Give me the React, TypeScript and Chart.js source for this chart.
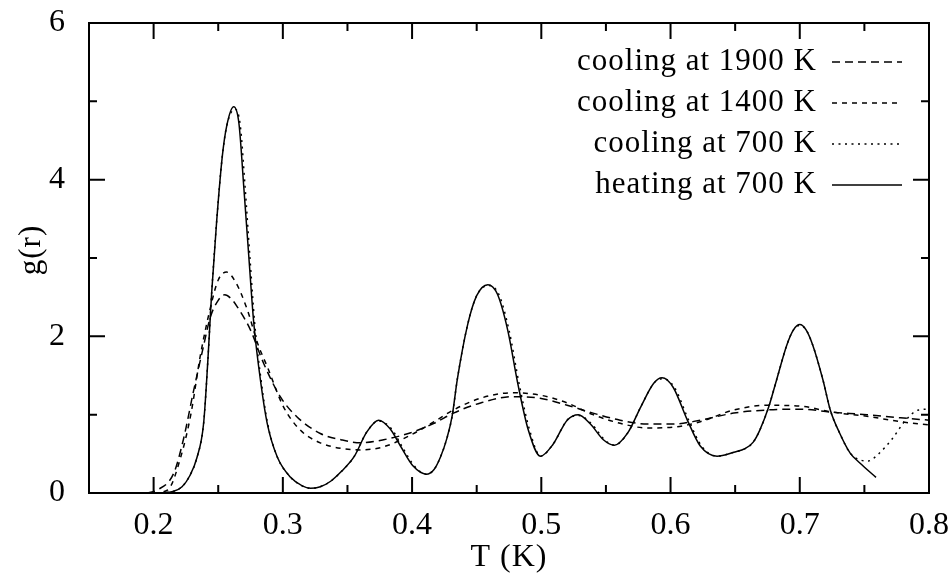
import React, { useEffect, useRef } from "react";
import { Chart, registerables } from "chart.js";

Chart.register(...registerables);

// ---------- data ----------
const cool1900X = [0.195, 0.203, 0.2155, 0.223, 0.231, 0.238, 0.244, 0.25, 0.255, 0.26, 0.265, 0.275, 0.285, 0.298, 0.311, 0.329, 0.345, 0.36, 0.378, 0.399, 0.417, 0.432, 0.453, 0.478, 0.499, 0.52, 0.54, 0.561, 0.582, 0.602, 0.623, 0.649, 0.675, 0.7, 0.726, 0.752, 0.778, 0.8];
const cool1900Y = [0.0, 0.04, 0.25, 0.68, 1.31, 1.83, 2.25, 2.46, 2.53, 2.48, 2.37, 2.08, 1.66, 1.23, 0.97, 0.76, 0.68, 0.64, 0.68, 0.77, 0.89, 1.02, 1.15, 1.23, 1.21, 1.12, 1.02, 0.93, 0.88, 0.88, 0.93, 1.02, 1.06, 1.07, 1.03, 1.0, 0.96, 0.93];

const cool1400X = [0.2, 0.211, 0.221, 0.229, 0.236, 0.244, 0.25, 0.2565, 0.2635, 0.2725, 0.2805, 0.288, 0.3005, 0.3137, 0.329, 0.345, 0.36, 0.378, 0.399, 0.417, 0.432, 0.453, 0.478, 0.499, 0.52, 0.54, 0.561, 0.582, 0.602, 0.623, 0.649, 0.675, 0.7, 0.726, 0.752, 0.778, 0.8];
const cool1400Y = [0.0, 0.04, 0.46, 1.02, 1.74, 2.37, 2.72, 2.82, 2.69, 2.34, 1.91, 1.61, 1.1, 0.8, 0.64, 0.57, 0.55, 0.59, 0.74, 0.91, 1.06, 1.21, 1.28, 1.25, 1.15, 1.0, 0.89, 0.83, 0.84, 0.91, 1.06, 1.12, 1.11, 1.03, 0.98, 0.91, 0.87];

const cool700X = [0.205, 0.215, 0.222, 0.228, 0.2335, 0.2387, 0.242, 0.2449, 0.2487, 0.2531, 0.2565, 0.263, 0.267, 0.2708, 0.2745, 0.2782, 0.2835, 0.2882, 0.2957, 0.306, 0.315, 0.3214, 0.329, 0.337, 0.345, 0.355, 0.365, 0.374, 0.384, 0.392, 0.402, 0.411, 0.417, 0.422, 0.427, 0.431, 0.435, 0.443, 0.45, 0.459, 0.467, 0.475, 0.483, 0.491, 0.4995, 0.509, 0.52, 0.529, 0.539, 0.549, 0.5566, 0.567, 0.577, 0.587, 0.594, 0.603, 0.614, 0.624, 0.636, 0.649, 0.658, 0.664, 0.669, 0.676, 0.682, 0.69, 0.695, 0.7, 0.705, 0.71, 0.718, 0.7236, 0.731, 0.739, 0.747, 0.753, 0.761, 0.771, 0.782, 0.792, 0.8];
const cool700Y = [0.0, 0.02, 0.08, 0.22, 0.45, 0.89, 1.7, 2.55, 3.45, 4.29, 4.68, 4.9, 4.7, 3.9, 3.01, 2.17, 1.4, 0.89, 0.46, 0.2, 0.09, 0.06, 0.08, 0.15, 0.27, 0.46, 0.78, 0.92, 0.82, 0.6, 0.34, 0.24, 0.3, 0.46, 0.7, 0.98, 1.45, 2.15, 2.52, 2.65, 2.54, 2.08, 1.38, 0.8, 0.47, 0.62, 0.93, 0.99, 0.88, 0.68, 0.61, 0.77, 1.1, 1.4, 1.46, 1.35, 0.93, 0.6, 0.47, 0.52, 0.57, 0.65, 0.8, 1.1, 1.44, 1.89, 2.08, 2.14, 2.08, 1.89, 1.44, 1.06, 0.76, 0.51, 0.42, 0.41, 0.5, 0.68, 0.93, 1.06, 1.07];

const heat700X = [0.205, 0.215, 0.222, 0.228, 0.2335, 0.2387, 0.242, 0.2449, 0.2487, 0.2531, 0.2565, 0.262, 0.266, 0.2698, 0.2737, 0.2775, 0.283, 0.2879, 0.2957, 0.306, 0.315, 0.3214, 0.329, 0.337, 0.345, 0.355, 0.365, 0.374, 0.383, 0.391, 0.401, 0.411, 0.417, 0.422, 0.427, 0.431, 0.435, 0.443, 0.45, 0.4586, 0.466, 0.474, 0.482, 0.49, 0.4993, 0.509, 0.52, 0.5287, 0.538, 0.548, 0.5566, 0.567, 0.577, 0.587, 0.5934, 0.602, 0.613, 0.623, 0.636, 0.649, 0.658, 0.664, 0.669, 0.676, 0.682, 0.69, 0.695, 0.7, 0.705, 0.71, 0.718, 0.7236, 0.731, 0.739, 0.7467, 0.759];
const heat700Y = [0.0, 0.02, 0.08, 0.22, 0.45, 0.89, 1.7, 2.55, 3.45, 4.29, 4.68, 4.93, 4.72, 3.9, 3.01, 2.17, 1.4, 0.89, 0.46, 0.2, 0.09, 0.06, 0.08, 0.15, 0.27, 0.46, 0.78, 0.93, 0.82, 0.6, 0.34, 0.24, 0.3, 0.46, 0.7, 0.98, 1.45, 2.15, 2.52, 2.66, 2.54, 2.08, 1.38, 0.8, 0.47, 0.62, 0.93, 1.0, 0.88, 0.68, 0.61, 0.77, 1.1, 1.4, 1.47, 1.35, 0.93, 0.6, 0.47, 0.52, 0.57, 0.65, 0.8, 1.1, 1.44, 1.89, 2.08, 2.15, 2.08, 1.89, 1.44, 1.06, 0.76, 0.51, 0.38, 0.2];

const seriesLabels = ["cooling at 1900 K", "cooling at 1400 K", "cooling at 700 K", "heating at 700 K"];
const xMajorTicks = [0.2, 0.3, 0.4, 0.5, 0.6, 0.7, 0.8];
const xMinorTicks = [0.25, 0.35, 0.45, 0.55, 0.65, 0.75];
const yMajorTicks = [0, 2, 4, 6];
const yMinorTicks = [1, 3, 5];
const xTitle = "T (K)";
const yTitle = "g(r)";

const FONT = "'Liberation Serif', 'Times New Roman', serif";

const zip = (xs: number[], ys: number[]) => xs.map((x, i) => ({ x, y: ys[i] }));

const gnuplotPlugin = {
  id: "gnuplotFrame",
  afterDatasetsDraw(chart: any) {
    const { ctx, chartArea: a, scales } = chart;
    const sx = scales.x;
    const sy = scales.y;
    ctx.save();
    ctx.strokeStyle = "#000";
    ctx.lineWidth = 2;
    ctx.setLineDash([]);
    ctx.strokeRect(a.left, a.top, a.right - a.left, a.bottom - a.top);
    const major = 16;
    const minor = 8;
    ctx.beginPath();
    const xt = (v: number, len: number) => {
      const p = sx.getPixelForValue(v);
      ctx.moveTo(p, a.bottom);
      ctx.lineTo(p, a.bottom - len);
      ctx.moveTo(p, a.top);
      ctx.lineTo(p, a.top + len);
    };
    const yt = (v: number, len: number) => {
      const p = sy.getPixelForValue(v);
      ctx.moveTo(a.left, p);
      ctx.lineTo(a.left + len, p);
      ctx.moveTo(a.right, p);
      ctx.lineTo(a.right - len, p);
    };
    xMajorTicks.forEach((v) => xt(v, major));
    xMinorTicks.forEach((v) => xt(v, minor));
    yMajorTicks.forEach((v) => yt(v, major));
    yMinorTicks.forEach((v) => yt(v, minor));
    ctx.stroke();

    // legend (gnuplot style, inside the plot)
    const textRight = 817;
    const lineL = 832;
    const lineR = 902;
    const rowY0 = 62;
    const rowGap = 41;
    ctx.font = `31px ${FONT}`;
    (ctx as any).letterSpacing = "1px";
    ctx.fillStyle = "#000";
    ctx.textAlign = "right";
    ctx.textBaseline = "alphabetic";
    chart.data.datasets.forEach((ds: any, i: number) => {
      const y = rowY0 + i * rowGap;
      ctx.fillText(ds.label, textRight, y + 8);
      ctx.beginPath();
      ctx.lineWidth = ds.borderWidth;
      ctx.setLineDash(ds.borderDash || []);
      ctx.moveTo(lineL, y);
      ctx.lineTo(lineR, y);
      ctx.stroke();
    });
    ctx.setLineDash([]);

    // axis titles
    ctx.font = `32px ${FONT}`;
    (ctx as any).letterSpacing = "1px";
    ctx.textAlign = "center";
    ctx.textBaseline = "alphabetic";
    ctx.fillText(xTitle, 509, 566);
    ctx.save();
    ctx.translate(32, 250);
    ctx.rotate(-Math.PI / 2);
    ctx.textBaseline = "middle";
    ctx.font = `31px ${FONT}`;
    ctx.fillText(yTitle, 0, 0);
    ctx.restore();
    (ctx as any).letterSpacing = "0px";
    ctx.restore();
  },
};

export default function App() {
  const ref = useRef<HTMLCanvasElement | null>(null);
  useEffect(() => {
    if (!ref.current) return;
    const common = {
      borderColor: "#000",
      backgroundColor: "#000",
      borderWidth: 1.5,
      pointRadius: 0,
      fill: false,
      cubicInterpolationMode: "monotone" as const,
    };
    const chart = new Chart(ref.current, {
      type: "line",
      data: {
        datasets: [
          { ...common, label: seriesLabels[0], data: zip(cool1900X, cool1900Y), borderDash: [8, 5] },
          { ...common, label: seriesLabels[1], data: zip(cool1400X, cool1400Y), borderDash: [5, 5] },
          { ...common, label: seriesLabels[2], data: zip(cool700X, cool700Y), borderDash: [2, 4.5] },
          { ...common, label: seriesLabels[3], data: zip(heat700X, heat700Y), borderDash: [] },
        ],
      },
      options: {
        responsive: false,
        animation: false,
        devicePixelRatio: 1,
        layout: { padding: { left: 0, top: 23, right: 19, bottom: 0 } },
        plugins: { legend: { display: false }, tooltip: { enabled: false } },
        scales: {
          x: {
            type: "linear",
            min: 0.15,
            max: 0.8,
            grid: { display: false },
            border: { display: false },
            ticks: {
              color: "#000",
              font: { family: FONT, size: 32 },
              padding: 5,
              maxRotation: 0,
              autoSkip: false,
              callback: (v: any) => Number(v).toFixed(1),
            },
            afterBuildTicks: (s: any) => {
              s.ticks = xMajorTicks.map((v) => ({ value: v }));
            },
            afterFit: (s: any) => {
              s.height = 81;
              s.paddingLeft = 0;
              s.paddingRight = 0;
            },
          },
          y: {
            type: "linear",
            min: 0,
            max: 6,
            grid: { display: false },
            border: { display: false },
            ticks: {
              color: "#000",
              font: { family: FONT, size: 32 },
              padding: 16,
              autoSkip: false,
              callback: (v: any) => String(v),
            },
            afterBuildTicks: (s: any) => {
              s.ticks = yMajorTicks.map((v) => ({ value: v }));
            },
            afterFit: (s: any) => {
              s.width = 89;
              s.paddingTop = 0;
              s.paddingBottom = 0;
            },
          },
        },
      },
      plugins: [gnuplotPlugin],
    });
    return () => chart.destroy();
  }, []);
  return (
    <div style={{ position: "absolute", left: 0, top: 0, width: 948, height: 574, background: "#fff" }}>
      <canvas ref={ref} width={948} height={574} style={{ display: "block" }} />
    </div>
  );
}
